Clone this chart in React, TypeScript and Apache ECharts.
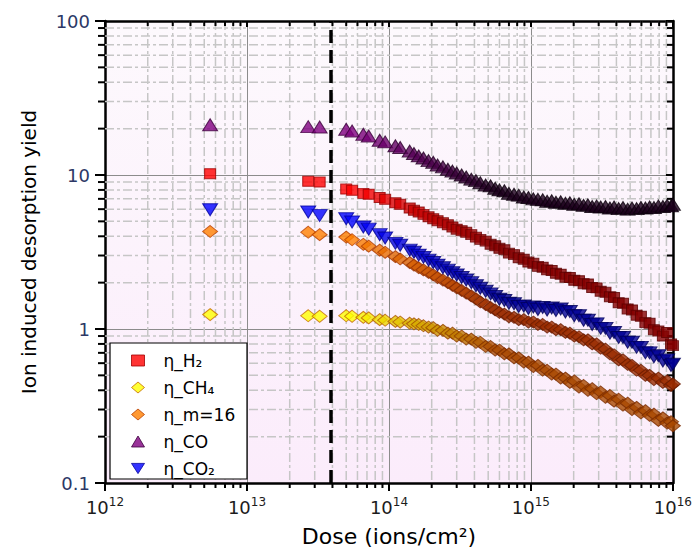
import React, { useEffect, useRef } from "react";
import * as echarts from "echarts";

// Ion dose (ions/cm²): three points before the dashed marker, then the continuous run
const DOSE = [
  5.5e12, 2.7e13, 3.25e13,
  5.0e13, 5.5e13, 6.6e13, 7.2e13, 8.6e13, 9.4e13, 1.11e14, 1.2e14, 1.4e14, 1.5e14,
  1.62e14, 1.75e14, 1.9e14, 2.05e14, 2.2e14, 2.4e14, 2.6e14, 2.8e14, 3.0e14, 3.25e14,
  3.5e14, 3.8e14, 4.1e14, 4.4e14, 4.8e14, 5.2e14, 5.6e14, 6.0e14, 6.5e14, 7.0e14,
  7.6e14, 8.2e14, 8.9e14, 9.6e14, 1.04e15, 1.12e15, 1.21e15, 1.3e15, 1.4e15, 1.5e15,
  1.62e15, 1.75e15, 1.88e15, 2.02e15, 2.18e15, 2.35e15, 2.52e15, 2.7e15, 2.9e15, 3.1e15,
  3.35e15, 3.6e15, 3.85e15, 4.15e15, 4.45e15, 4.8e15, 5.15e15, 5.55e15, 5.95e15, 6.4e15,
  6.85e15, 7.35e15, 7.9e15, 8.5e15, 9.1e15, 9.7e15, 1.0e16,
];

const ETA_H2 = [
  10.2, 9.1, 9.0,
  8.1, 7.95, 7.6, 7.5, 7.15, 6.95, 6.6, 6.45, 6.1, 5.9,
  5.75, 5.55, 5.35, 5.2, 5.05, 4.9, 4.75, 4.6, 4.45, 4.35,
  4.25, 4.1, 3.95, 3.82, 3.72, 3.55, 3.47, 3.34, 3.27, 3.11,
  3.04, 2.9, 2.84, 2.72, 2.67, 2.55, 2.52, 2.42, 2.4, 2.3,
  2.27, 2.17, 2.16, 2.07, 2.06, 1.97, 1.96, 1.86, 1.85, 1.76,
  1.73, 1.62, 1.6, 1.48, 1.47, 1.35, 1.33, 1.23, 1.21, 1.1,
  1.09, 0.99, 0.97, 0.9, 0.95, 0.8, 0.78,
];

const ETA_CH4 = [
  1.24, 1.22, 1.21,
  1.22, 1.21, 1.19, 1.18, 1.15, 1.14, 1.12, 1.11, 1.09, 1.08,
  1.07, 1.05, 1.03, 1.02, 0.98, 0.98, 0.94, 0.94, 0.9, 0.9,
  0.86, 0.86, 0.82, 0.82, 0.77, 0.77, 0.73, 0.73, 0.69, 0.69,
  0.65, 0.65, 0.61, 0.61, 0.57, 0.58, 0.54, 0.54, 0.51, 0.51,
  0.48, 0.48, 0.45, 0.46, 0.42, 0.43, 0.4, 0.41, 0.38, 0.39,
  0.36, 0.37, 0.34, 0.35, 0.32, 0.33, 0.3, 0.31, 0.285, 0.295,
  0.275, 0.28, 0.255, 0.265, 0.245, 0.25, 0.235,
];

const ETA_M16 = [
  4.3, 4.25, 4.1,
  3.95, 3.8, 3.55, 3.45, 3.25, 3.15, 2.95, 2.85, 2.7, 2.6,
  2.5, 2.42, 2.33, 2.25, 2.16, 2.08, 2.0, 1.92, 1.85, 1.78,
  1.71, 1.64, 1.57, 1.5, 1.44, 1.38, 1.33, 1.28, 1.25, 1.2,
  1.19, 1.15, 1.15, 1.11, 1.11, 1.07, 1.07, 1.03, 1.03, 0.99,
  0.99, 0.95, 0.94, 0.9, 0.89, 0.85, 0.85, 0.8, 0.8, 0.75,
  0.74, 0.69, 0.68, 0.63, 0.63, 0.59, 0.58, 0.54, 0.54, 0.5,
  0.5, 0.47, 0.48, 0.45, 0.46, 0.43, 0.44,
];

const ETA_CO = [
  21.2, 20.6, 20.5,
  19.8, 19.3, 18.4, 17.9, 16.8, 16.4, 15.5, 15.1, 14.3, 13.8,
  13.3, 12.9, 12.4, 12.1, 11.6, 11.3, 10.9, 10.6, 10.3, 10.0,
  9.7, 9.4, 9.2, 8.9, 8.6, 8.5, 8.2, 8.0, 7.9, 7.6,
  7.5, 7.4, 7.2, 7.15, 7.0, 6.95, 6.9, 6.75, 6.8, 6.65,
  6.7, 6.55, 6.6, 6.45, 6.5, 6.35, 6.4, 6.25, 6.3, 6.2,
  6.25, 6.1, 6.2, 6.05, 6.15, 6.0, 6.1, 6.05, 6.15, 6.1,
  6.2, 6.15, 6.3, 6.25, 6.35, 6.3, 6.45,
];

const ETA_CO2 = [
  5.95, 5.75, 5.45,
  5.2, 4.95, 4.6, 4.45, 4.1, 3.9, 3.6, 3.5, 3.25, 3.15,
  3.02, 2.92, 2.8, 2.7, 2.6, 2.5, 2.41, 2.32, 2.24, 2.16,
  2.08, 2.0, 1.91, 1.84, 1.76, 1.69, 1.63, 1.56, 1.53, 1.47,
  1.46, 1.4, 1.41, 1.36, 1.39, 1.34, 1.38, 1.33, 1.37, 1.32,
  1.35, 1.29, 1.3, 1.22, 1.22, 1.14, 1.14, 1.07, 1.08, 1.01,
  1.01, 0.94, 0.95, 0.88, 0.88, 0.82, 0.82, 0.76, 0.76, 0.7,
  0.7, 0.66, 0.67, 0.62, 0.63, 0.58, 0.59,
];

// Dose where the irradiation conditions change (dashed marker)
const MARKER_DOSE = 3.9e13;

const X_DECADES = [1e12, 1e13, 1e14, 1e15, 1e16];
const Y_DECADES = [0.1, 1, 10, 100];
const MINOR_STEPS = [2, 3, 4, 5, 6, 7, 8, 9];

const X_NAME = "Dose (ions/cm²)";
const Y_NAME = "Ion induced desorption yield";

const FONT = '"DejaVu Sans", "Liberation Sans", sans-serif';

const minorOf = (decades: number[]) =>
  decades.slice(0, -1).flatMap((d) => MINOR_STEPS.map((m) => m * d));

const X_MINOR = minorOf(X_DECADES);
const Y_MINOR = minorOf(Y_DECADES);

type Spec = {
  name: string;
  values: number[];
  symbol: string;
  size: number[];
  rotate: number;
  icon: string;
  fill: [string, string];
  edge: [string, string];
};

const SPECS: Spec[] = [
  { name: "η_H₂", values: ETA_H2, symbol: "rect", size: [11, 10], rotate: 0, icon: "rect",
    fill: ["#ff0000", "#850000"], edge: ["#a00000", "#5c0000"] },
  { name: "η_CH₄", values: ETA_CH4, symbol: "diamond", size: [15, 12], rotate: 0, icon: "diamond",
    fill: ["#ffff00", "#a94800"], edge: ["#c46a00", "#7a2c00"] },
  { name: "η_m=16", values: ETA_M16, symbol: "diamond", size: [15, 12], rotate: 0, icon: "diamond",
    fill: ["#ff8000", "#9a2c00"], edge: ["#b84000", "#6a1c00"] },
  { name: "η_CO", values: ETA_CO, symbol: "triangle", size: [15, 12], rotate: 0, icon: "triangle",
    fill: ["#800080", "#1c001c"], edge: ["#3c003c", "#0c000c"] },
  { name: "η_CO₂", values: ETA_CO2, symbol: "triangle", size: [15, 12], rotate: 180,
    icon: "path://M0,0L14,0L7,11Z",
    fill: ["#0000ff", "#000095"], edge: ["#0000a0", "#00005a"] },
];

const hexToRgb = (h: string) => {
  const n = parseInt(h.slice(1), 16);
  return [(n >> 16) & 255, (n >> 8) & 255, n & 255];
};
const mix = (a: string, b: string, t: number) => {
  const ca = hexToRgb(a);
  const cb = hexToRgb(b);
  const c = ca.map((v, i) => Math.round(v + (cb[i] - v) * t));
  return `rgb(${c[0]},${c[1]},${c[2]})`;
};
// darkening of the markers with accumulated dose
const shade = (dose: number) =>
  Math.min(1, Math.max(0, (Math.log10(dose) - 13.75) / 1.0));

const MINOR_GRID_STYLE = { stroke: "#c6c6c6", lineWidth: 1.5, lineDash: [9, 3, 3, 3] };
const TICK_STYLE = { stroke: "#000", lineWidth: 2 };

export default function App() {
  const ref = useRef<HTMLDivElement>(null);

  useEffect(() => {
    if (!ref.current) return;
    const chart = echarts.init(ref.current, undefined, { renderer: "svg" });

    const axisBlack = { color: "#000", width: 2.5 };
    const tickBlack = { color: "#000", width: 2 };
    const majorGrid = { show: true, lineStyle: { color: "#8c8c8c", width: 1 } };

    const xBase = { type: "log", logBase: 10, min: 1e12, max: 1e16, gridIndex: 0 };
    const yBase = { type: "log", logBase: 10, min: 0.1, max: 100, gridIndex: 0 };

    // minor (2..9) grid lines and ticks of the log axes, placed through the axis scales
    const minorX = {
      type: "custom",
      silent: true,
      clip: false,
      z: 1,
      xAxisIndex: 0,
      yAxisIndex: 0,
      data: X_MINOR.map((v) => [v, 1]),
      renderItem: (params: any, api: any) => {
        const x = api.coord([api.value(0), 1])[0];
        const cs = params.coordSys;
        const top = cs.y;
        const bottom = cs.y + cs.height;
        return {
          type: "group",
          children: [
            { type: "line", shape: { x1: x, y1: top, x2: x, y2: bottom }, style: MINOR_GRID_STYLE },
            { type: "line", shape: { x1: x, y1: bottom, x2: x, y2: bottom + 5 }, style: TICK_STYLE },
            { type: "line", shape: { x1: x, y1: top, x2: x, y2: top + 5 }, style: TICK_STYLE },
          ],
        };
      },
    };
    const minorY = {
      type: "custom",
      silent: true,
      clip: false,
      z: 1,
      xAxisIndex: 0,
      yAxisIndex: 0,
      data: Y_MINOR.map((v) => [1e14, v]),
      renderItem: (params: any, api: any) => {
        const y = api.coord([1e14, api.value(1)])[1];
        const cs = params.coordSys;
        const left = cs.x;
        const right = cs.x + cs.width;
        return {
          type: "group",
          children: [
            { type: "line", shape: { x1: left, y1: y, x2: right, y2: y }, style: MINOR_GRID_STYLE },
            { type: "line", shape: { x1: left - 7, y1: y, x2: left, y2: y }, style: TICK_STYLE },
            { type: "line", shape: { x1: right - 6, y1: y, x2: right, y2: y }, style: TICK_STYLE },
          ],
        };
      },
    };

    const series: any[] = SPECS.map((s, k) => ({
      name: s.name,
      type: "scatter",
      symbol: s.symbol,
      symbolSize: s.size,
      symbolRotate: s.rotate,
      xAxisIndex: 0,
      yAxisIndex: 0,
      z: 3,
      data: DOSE.map((d, i) => {
        const t = shade(d);
        return {
          value: [d, s.values[i]],
          itemStyle: {
            color: mix(s.fill[0], s.fill[1], t),
            borderColor: mix(s.edge[0], s.edge[1], t),
            borderWidth: 1,
          },
        };
      }),
      ...(k === 0
        ? {
            markLine: {
              silent: true,
              symbol: ["none", "none"],
              label: { show: false },
              lineStyle: { color: "#000", width: 3.5, type: [13, 7] },
              data: [{ xAxis: MARKER_DOSE }],
            },
          }
        : {}),
    }));

    chart.setOption({
      animation: false,
      grid: {
        show: true,
        left: 105,
        right: 18,
        top: 21,
        bottom: 67,
        borderWidth: 0,
        backgroundColor: new echarts.graphic.LinearGradient(0, 0, 0, 1, [
          { offset: 0, color: "#fdf9fd" },
          { offset: 1, color: "#fbecfb" },
        ]),
      },
      xAxis: [
        {
          ...xBase,
          position: "bottom",
          axisLine: { show: true, onZero: false, lineStyle: axisBlack },
          axisTick: { show: true, inside: false, length: 8, lineStyle: tickBlack, customValues: X_DECADES },
          axisLabel: {
            customValues: X_DECADES,
            margin: 13,
            formatter: (v: number) => `{b|10}{s|${Math.round(Math.log10(v))}}`,
            rich: {
              b: { fontFamily: FONT, fontSize: 18, color: "#1c1c1c" },
              s: { fontFamily: FONT, fontSize: 12, color: "#1c1c1c", padding: [0, 0, 10, 0] },
            },
          },
          splitLine: majorGrid,
          name: X_NAME,
          nameLocation: "middle",
          nameGap: 42,
          nameTextStyle: { fontFamily: FONT, fontSize: 22, color: "#000" },
        },
        {
          ...xBase,
          position: "top",
          axisLine: { show: true, onZero: false, lineStyle: axisBlack },
          axisTick: { show: true, inside: true, length: 6, lineStyle: tickBlack, customValues: X_DECADES },
          axisLabel: { show: false },
          splitLine: { show: false },
        },
      ],
      yAxis: [
        {
          ...yBase,
          position: "left",
          axisLine: { show: true, onZero: false, lineStyle: axisBlack },
          axisTick: { show: true, inside: false, length: 10, lineStyle: tickBlack, customValues: Y_DECADES },
          axisLabel: {
            customValues: Y_DECADES,
            margin: 15,
            fontFamily: FONT,
            fontSize: 18,
            color: "#2c3866",
            formatter: (v: number) => (v >= 1 ? String(Math.round(v)) : "0.1"),
          },
          splitLine: majorGrid,
          name: Y_NAME,
          nameLocation: "middle",
          nameGap: 66,
          nameTextStyle: { fontFamily: FONT, fontSize: 20, color: "#000" },
        },
        {
          ...yBase,
          position: "right",
          axisLine: { show: true, onZero: false, lineStyle: axisBlack },
          axisTick: { show: true, inside: true, length: 7, lineStyle: tickBlack, customValues: Y_DECADES },
          axisLabel: { show: false },
          splitLine: { show: false },
        },
      ],
      legend: {
        orient: "vertical",
        left: 131,
        top: 352,
        padding: 0,
        itemWidth: 13,
        itemHeight: 11,
        itemGap: 10,
        z: 20,
        textStyle: {
          fontFamily: FONT,
          fontSize: 17,
          lineHeight: 16,
          color: "#000",
          padding: [0, 0, 0, 14],
        },
        data: SPECS.map((s) => ({
          name: s.name,
          icon: s.icon,
          itemStyle: { color: s.fill[0], borderColor: s.edge[0], borderWidth: 1 },
        })),
      },
      graphic: [
        {
          type: "rect",
          z: 15,
          shape: { x: 110, y: 343, width: 137, height: 136 },
          style: { fill: "#fff", stroke: "#000", lineWidth: 1.2 },
          silent: true,
        },
      ],
      series: [minorX, minorY, ...series],
    });

    return () => chart.dispose();
  }, []);

  return (
    <div
      ref={ref}
      style={{ position: "absolute", left: 0, top: 0, width: 695, height: 552 }}
    />
  );
}
